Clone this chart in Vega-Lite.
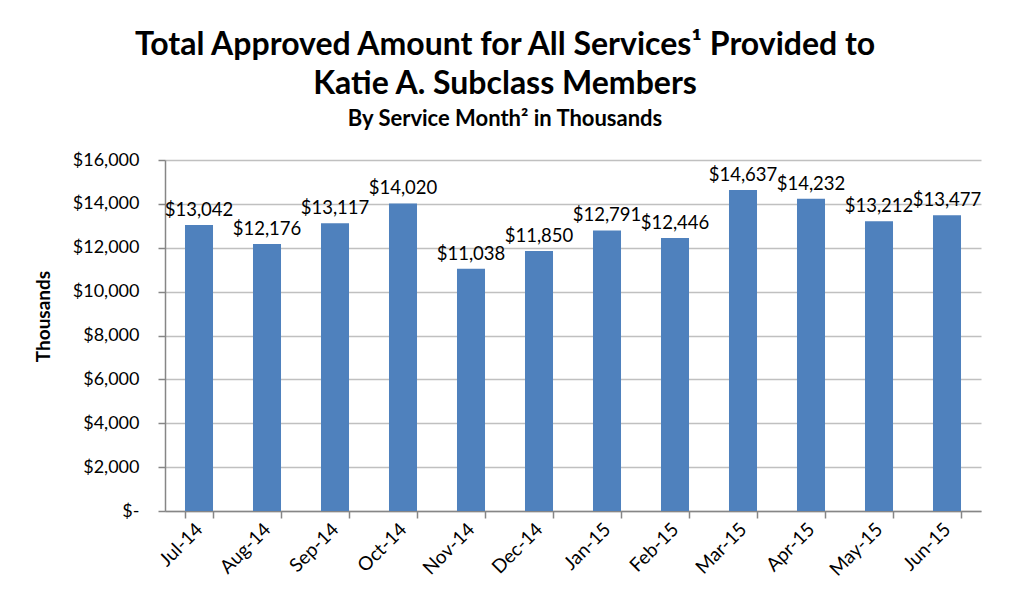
{
  "$schema": "https://vega.github.io/schema/vega-lite/v6.json",
  "width": 816,
  "height": 351,
  "autosize": {"type": "none"},
  "padding": {"left": 165, "top": 160, "right": 28, "bottom": 93},
  "background": "white",
  "config": {
    "font": "Lato",
    "view": {"stroke": null}
  },
  "title": {
    "text": ["Total Approved Amount for All Services¹ Provided to", "Katie A. Subclass Members"],
    "subtitle": "By Service Month² in Thousands",
    "fontSize": 32,
    "fontWeight": "bold",
    "lineHeight": 39,
    "color": "black",
    "subtitleFontSize": 22,
    "subtitleFontWeight": "bold",
    "subtitleColor": "black",
    "subtitlePadding": 8,
    "anchor": "middle",
    "dx": -68,
    "offset": 20,
    "font": "Lato",
    "subtitleFont": "Lato"
  },
  "data": {
    "values": [
      {"month": "Jul-14", "amount": 13042},
      {"month": "Aug-14", "amount": 12176},
      {"month": "Sep-14", "amount": 13117},
      {"month": "Oct-14", "amount": 14020},
      {"month": "Nov-14", "amount": 11038},
      {"month": "Dec-14", "amount": 11850},
      {"month": "Jan-15", "amount": 12791},
      {"month": "Feb-15", "amount": 12446},
      {"month": "Mar-15", "amount": 14637},
      {"month": "Apr-15", "amount": 14232},
      {"month": "May-15", "amount": 13212},
      {"month": "Jun-15", "amount": 13477}
    ]
  },
  "encoding": {
    "x": {
      "field": "month",
      "type": "nominal",
      "sort": null,
      "scale": {"paddingInner": 0.588, "paddingOuter": 0.294},
      "axis": {
        "title": null,
        "labelAngle": -45,
        "labelAlign": "right",
        "labelBaseline": "middle",
        "labelFontSize": 19,
        "labelColor": "black",
        "labelPadding": 8,
        "tickBand": "extent",
        "tickSize": 7,
        "tickColor": "#868686",
        "domainColor": "#868686",
        "domainWidth": 1.5,
        "tickWidth": 1.5,
        "grid": false
      }
    },
    "y": {
      "field": "amount",
      "type": "quantitative",
      "scale": {"domain": [0, 16000], "nice": false},
      "axis": {
        "title": "Thousands",
        "titleFontSize": 19,
        "titleFontWeight": "bold",
        "titleColor": "black",
        "titleX": -112,
        "titleY": 156,
        "values": [0, 2000, 4000, 6000, 8000, 10000, 12000, 14000, 16000],
        "labelExpr": "datum.value == 0 ? '$-' : '$' + format(datum.value, ',')",
        "labelFontSize": 18,
        "labelColor": "black",
        "labelPadding": 19,
        "tickSize": 7,
        "tickColor": "#868686",
        "tickWidth": 1.5,
        "domainColor": "#868686",
        "domainWidth": 1.5,
        "grid": true,
        "gridColor": "#C0C0C0",
        "gridWidth": 1.5
      }
    }
  },
  "layer": [
    {"mark": {"type": "bar", "color": "#4F81BD"}},
    {
      "mark": {"type": "text", "baseline": "bottom", "dy": -5, "fontSize": 18.5, "color": "black"},
      "encoding": {
        "text": {"field": "amount", "type": "quantitative", "format": "$,.0f"}
      }
    }
  ]
}
